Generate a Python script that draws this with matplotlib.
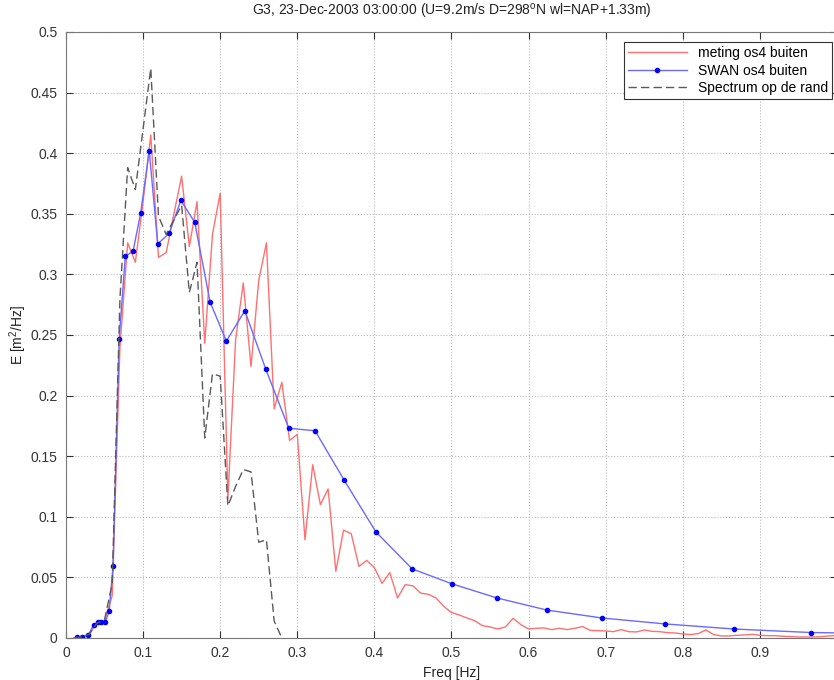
### Wave energy spectrum G3, measured vs SWAN vs boundary spectrum

import matplotlib
matplotlib.use('Agg')
import matplotlib.pyplot as plt

plt.rcParams['font.family'] = ['Liberation Sans', 'DejaVu Sans']

# frequency grid of the measurement / boundary spectrum [Hz]
meting_freq = [0.01, 0.02, 0.03, 0.04, 0.05, 0.06, 0.07, 0.08, 0.09, 0.10,
               0.11, 0.12, 0.13, 0.14, 0.15, 0.16, 0.17, 0.18, 0.19, 0.20,
               0.21, 0.22, 0.23, 0.24, 0.25, 0.26, 0.27, 0.28, 0.29, 0.30,
               0.31, 0.32, 0.33, 0.34, 0.35, 0.36, 0.37, 0.38, 0.39, 0.40,
               0.41, 0.42, 0.43, 0.44, 0.45, 0.46, 0.47, 0.48, 0.49, 0.50,
               0.51, 0.52, 0.53, 0.54, 0.55, 0.56, 0.57, 0.58, 0.59, 0.60,
               0.61, 0.62, 0.63, 0.64, 0.65, 0.66, 0.67, 0.68, 0.69, 0.70,
               0.71, 0.72, 0.73, 0.74, 0.75, 0.76, 0.77, 0.78, 0.79, 0.80,
               0.81, 0.82, 0.83, 0.84, 0.85, 0.86, 0.87, 0.88, 0.89, 0.90,
               0.91, 0.92, 0.93, 0.94, 0.95, 0.96, 0.97, 0.98, 0.99, 1.00]
meting_E = [0.0, 0.001, 0.003, 0.012, 0.014, 0.035, 0.24, 0.326, 0.310, 0.36,
            0.415, 0.314, 0.318, 0.35, 0.381, 0.323, 0.360, 0.243, 0.333, 0.367,
            0.115, 0.246, 0.293, 0.224, 0.295, 0.326, 0.189, 0.211, 0.163, 0.168,
            0.081, 0.143, 0.110, 0.123, 0.055, 0.089, 0.086, 0.059, 0.064, 0.058,
            0.045, 0.054, 0.033, 0.044, 0.043, 0.037, 0.036, 0.033, 0.026, 0.021,
            0.019, 0.0165, 0.0143, 0.0102, 0.0091, 0.0074, 0.0091, 0.0162, 0.011, 0.0074,
            0.008, 0.0083, 0.0069, 0.008, 0.0069, 0.008, 0.0094, 0.0063, 0.006, 0.0058,
            0.0052, 0.0069, 0.0052, 0.005, 0.0066, 0.0055, 0.0052, 0.0044, 0.0041, 0.0033,
            0.0028, 0.0036, 0.0066, 0.0028, 0.0017, 0.0017, 0.0022, 0.0025, 0.003, 0.0022,
            0.0019, 0.0019, 0.0014, 0.0011, 0.0008, 0.0008, 0.0008, 0.0011, 0.0017, 0.002]

# SWAN output (log spaced frequencies)
swan_freq = [0.014, 0.021, 0.029, 0.036, 0.042, 0.045, 0.051, 0.056, 0.061, 0.069,
             0.077, 0.087, 0.097, 0.108, 0.119, 0.134, 0.149, 0.167, 0.187, 0.208,
             0.232, 0.259, 0.289, 0.323, 0.361, 0.402, 0.449, 0.501, 0.559, 0.624,
             0.695, 0.777, 0.866, 0.966, 1.078]
swan_E = [0.001, 0.001, 0.0025, 0.011, 0.013, 0.013, 0.013, 0.022, 0.059, 0.247,
          0.315, 0.319, 0.351, 0.402, 0.325, 0.334, 0.361, 0.343, 0.277, 0.245,
          0.270, 0.222, 0.173, 0.171, 0.130, 0.0875, 0.057, 0.0446, 0.033, 0.023,
          0.0165, 0.0116, 0.0074, 0.0045, 0.0035]

# boundary spectrum
rand_freq = [0.01, 0.02, 0.03, 0.04, 0.05, 0.06, 0.07, 0.08, 0.09, 0.10,
             0.11, 0.12, 0.13, 0.14, 0.15, 0.16, 0.17, 0.18, 0.19, 0.20,
             0.21, 0.22, 0.23, 0.24, 0.25, 0.26, 0.27, 0.28]
rand_E = [0.0, 0.001, 0.003, 0.012, 0.015, 0.045, 0.28, 0.388, 0.370, 0.42,
          0.470, 0.348, 0.333, 0.345, 0.357, 0.285, 0.31, 0.165, 0.218, 0.216,
          0.109, 0.125, 0.139, 0.137, 0.079, 0.081, 0.014, 0.0]

fig = plt.figure(figsize=(8.34, 6.8), dpi=100)
ax = fig.add_axes([0.0791, 0.0618, 0.9245, 0.8912])

ax.plot(meting_freq, meting_E, color='#ff7070', lw=1.0, label='meting os4 buiten')
ax.plot(swan_freq, swan_E, color='#6a6aff', lw=1.0, marker='o', markersize=3,
        markerfacecolor='#0000ff', markeredgecolor='#0000ff', label='SWAN os4 buiten')
ax.plot(rand_freq, rand_E, color='#5a5a5a', lw=1.0, ls=(0, (6, 3)),
        label='Spectrum op de rand')

ax.set_xlim(0, 1)
ax.set_ylim(0, 0.5)
ax.set_xticks([0, 0.1, 0.2, 0.3, 0.4, 0.5, 0.6, 0.7, 0.8, 0.9, 1.0])
ax.set_xticklabels(['0', '0.1', '0.2', '0.3', '0.4', '0.5', '0.6', '0.7', '0.8', '0.9', '1'])
ax.set_yticks([0, 0.05, 0.1, 0.15, 0.2, 0.25, 0.3, 0.35, 0.4, 0.45, 0.5])
ax.set_yticklabels(['0', '0.05', '0.1', '0.15', '0.2', '0.25', '0.3', '0.35', '0.4', '0.45', '0.5'])

# matlab look: dotted grid, ticks inside, box on
ax.grid(True, ls=':', color='#bbbbbb', lw=0.8)
ax.tick_params(direction='in', length=5, top=True, right=True, labelsize=10,
               colors='#333333', pad=6)
for sp in ax.spines.values():
    sp.set_color('#777777')

ax.set_title('G3, 23-Dec-2003 03:00:00 (U=9.2m/s D=298$^{\\mathregular{o}}$N wl=NAP+1.33m)',
             fontsize=10, color='#222222', pad=12)
ax.set_xlabel('Freq [Hz]', fontsize=10, color='#222222', labelpad=4)
ax.set_ylabel('E [m$^{\\mathregular{2}}$/Hz]', fontsize=10, color='#222222', labelpad=1)

leg = ax.legend(loc='upper right', bbox_to_anchor=(0.9935, 0.9835), borderaxespad=0,
                fancybox=False, edgecolor='#333333', framealpha=1, fontsize=10,
                handlelength=4.2, labelspacing=0.25, borderpad=0.3)
leg.get_frame().set_linewidth(0.8)

fig.savefig('out.png', dpi=100)
